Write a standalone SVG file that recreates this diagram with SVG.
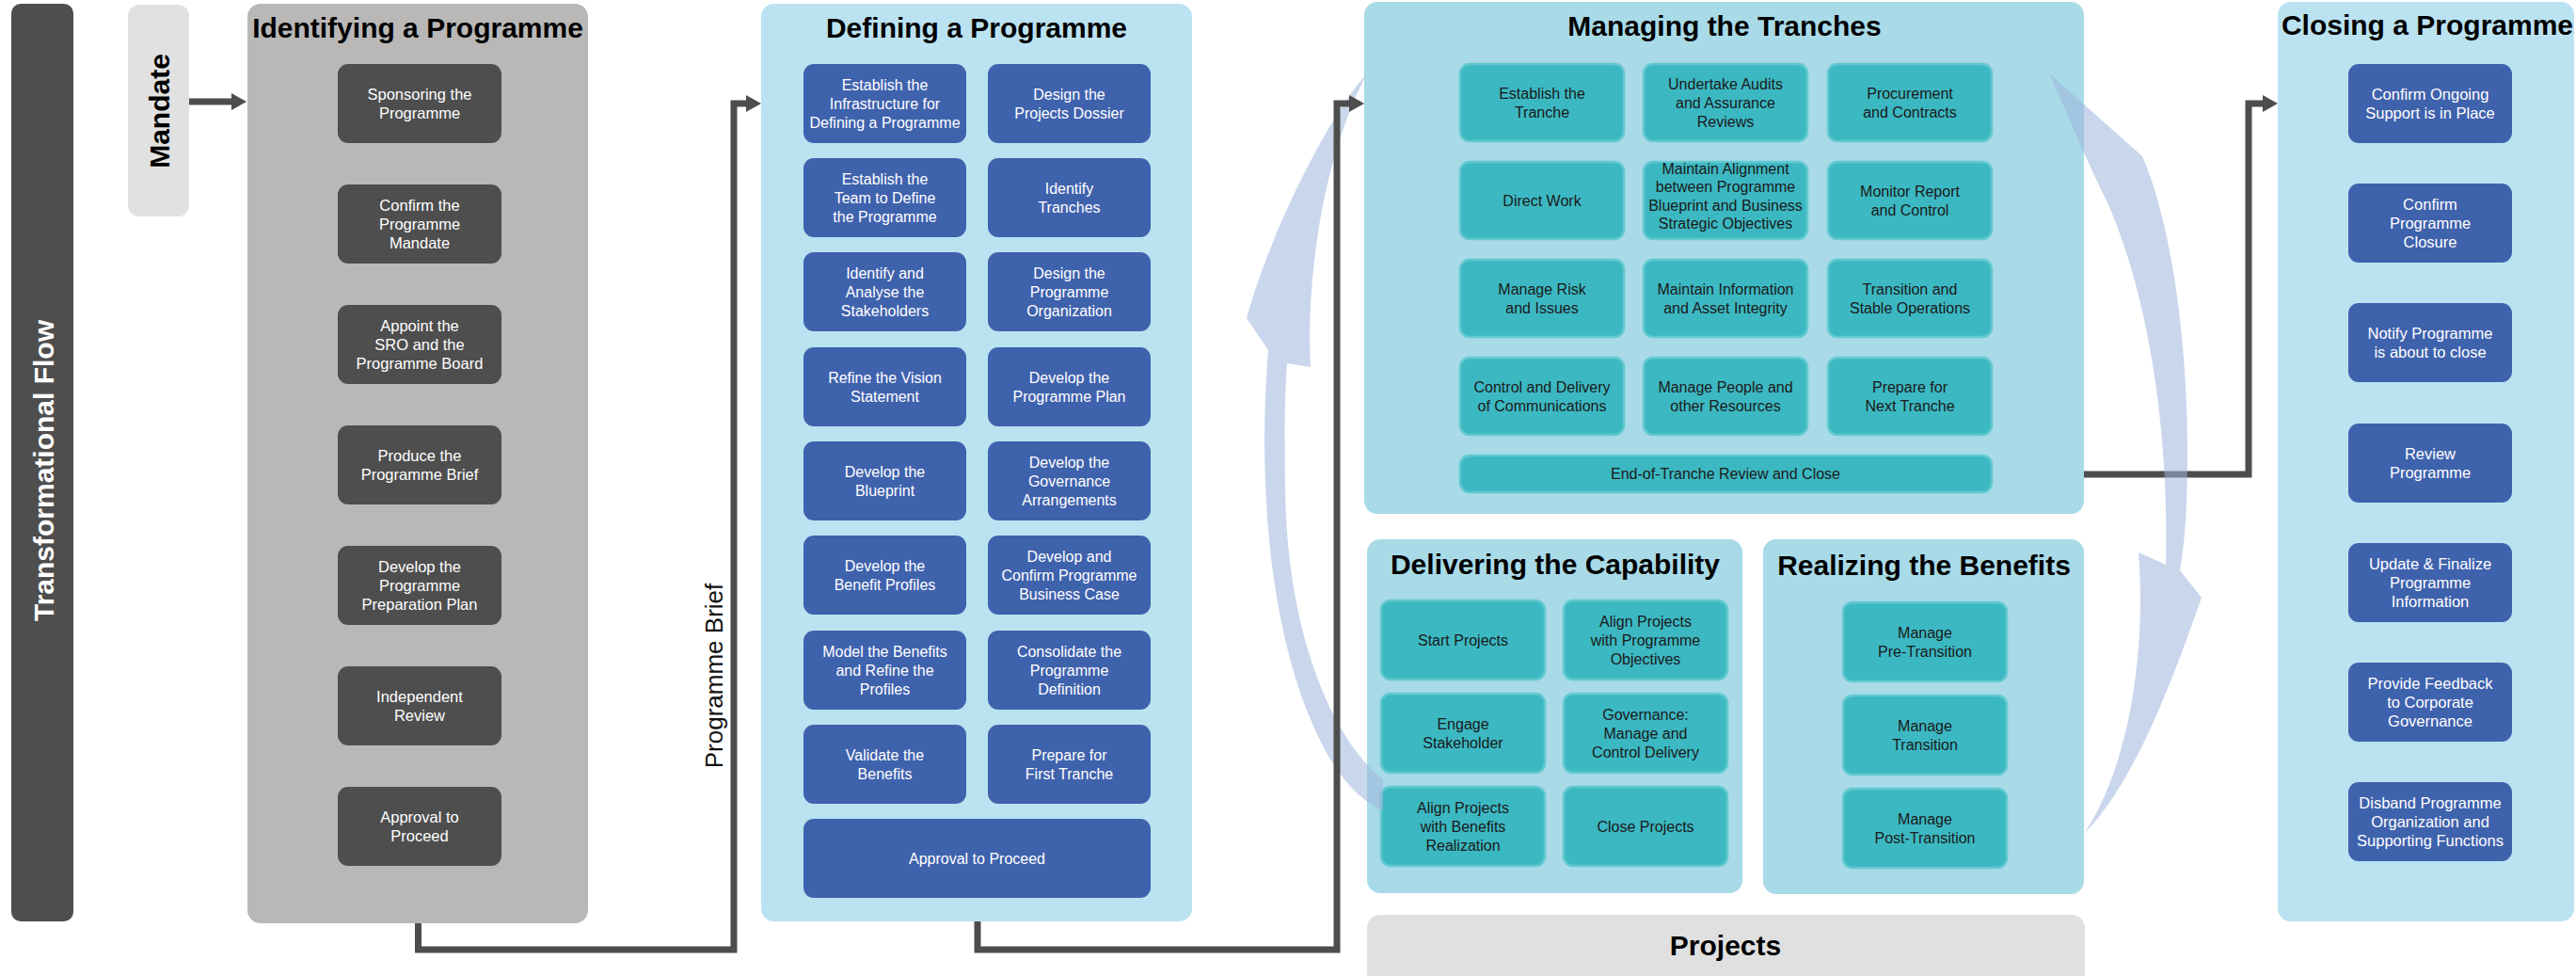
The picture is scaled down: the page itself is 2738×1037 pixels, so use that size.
<svg xmlns="http://www.w3.org/2000/svg" width="2738" height="1037" viewBox="0 0 2738 1037">
<style>
text{font-family:"Liberation Sans",Arial,sans-serif}
.pg{fill:#b9b8b7}
.pb{fill:#bbe2f1}
.pt{fill:#a8dae8}
.bd{fill:#4e4e4e}
.bb{fill:#3f62ad}
.bt{fill:#3cb8c2;stroke:#62c9d0;stroke-width:2.5}
.tw{fill:#fff;font-size:16.5px;text-anchor:middle}
.tb{fill:#fff;font-size:16px;text-anchor:middle}
.tk{fill:#1a1a1a;font-size:16px;text-anchor:middle}
.ti{fill:#000;font-weight:bold;font-size:30px;text-anchor:middle}
.cn{fill:none;stroke:#4d4d4d;stroke-width:7;stroke-linejoin:miter}
.sw{fill:#9db5dc;opacity:.55}
</style>
<defs>
<marker id="ah" markerUnits="userSpaceOnUse" markerWidth="16" markerHeight="18" refX="2" refY="9" orient="auto">
<path d="M0,0 L16,9 L0,18 z" fill="#4d4d4d"/>
</marker>
</defs>

<g id="transformational-flow">
<rect x="12" y="4" width="66" height="975" rx="10" fill="#4e4e4e"/>
<text transform="translate(57,500) rotate(-90)" fill="#fff" font-weight="bold" font-size="30" text-anchor="middle">Transformational Flow</text>
</g>

<g id="mandate">
<rect x="136" y="5" width="65" height="225" rx="12" fill="#e1e1e1"/>
<text transform="translate(180,118) rotate(-90)" fill="#000" font-weight="bold" font-size="30" text-anchor="middle">Mandate</text>
</g>

<g id="identifying">
<rect class="pg" x="263" y="4" width="362" height="977" rx="14"/>
<text class="ti" x="444" y="40" font-size="28">Identifying a Programme</text>
<rect class="bd" x="359" y="68" width="174" height="84" rx="11"/>
<text class="tw"><tspan x="446" y="105.5">Sponsoring the</tspan><tspan x="446" y="125.5">Programme</tspan></text>
<rect class="bd" x="359" y="196" width="174" height="84" rx="11"/>
<text class="tw"><tspan x="446" y="223.5">Confirm the</tspan><tspan x="446" y="243.5">Programme</tspan><tspan x="446" y="263.5">Mandate</tspan></text>
<rect class="bd" x="359" y="324" width="174" height="84" rx="11"/>
<text class="tw"><tspan x="446" y="351.5">Appoint the</tspan><tspan x="446" y="371.5">SRO and the</tspan><tspan x="446" y="391.5">Programme Board</tspan></text>
<rect class="bd" x="359" y="452" width="174" height="84" rx="11"/>
<text class="tw"><tspan x="446" y="489.5">Produce the</tspan><tspan x="446" y="509.5">Programme Brief</tspan></text>
<rect class="bd" x="359" y="580" width="174" height="84" rx="11"/>
<text class="tw"><tspan x="446" y="607.5">Develop the</tspan><tspan x="446" y="627.5">Programme</tspan><tspan x="446" y="647.5">Preparation Plan</tspan></text>
<rect class="bd" x="359" y="708" width="174" height="84" rx="11"/>
<text class="tw"><tspan x="446" y="745.5">Independent</tspan><tspan x="446" y="765.5">Review</tspan></text>
<rect class="bd" x="359" y="836" width="174" height="84" rx="11"/>
<text class="tw"><tspan x="446" y="873.5">Approval to</tspan><tspan x="446" y="893.5">Proceed</tspan></text>
</g>

<g id="programme-brief-label">
<text transform="translate(768,718) rotate(-90)" fill="#111" font-size="26" text-anchor="middle">Programme Brief</text>
</g>

<g id="defining">
<rect class="pb" x="809" y="4" width="458" height="975" rx="14"/>
<text class="ti" x="1038" y="40" font-size="29.5">Defining a Programme</text>
<rect class="bb" x="854" y="68" width="173" height="84" rx="11"/>
<text class="tb"><tspan x="940.5" y="95.5">Establish the</tspan><tspan x="940.5" y="115.5">Infrastructure for</tspan><tspan x="940.5" y="135.5">Defining a Programme</tspan></text>
<rect class="bb" x="1050" y="68" width="173" height="84" rx="11"/>
<text class="tb"><tspan x="1136.5" y="105.5">Design the</tspan><tspan x="1136.5" y="125.5">Projects Dossier</tspan></text>
<rect class="bb" x="854" y="168" width="173" height="84" rx="11"/>
<text class="tb"><tspan x="940.5" y="195.5">Establish the</tspan><tspan x="940.5" y="215.5">Team to Define</tspan><tspan x="940.5" y="235.5">the Programme</tspan></text>
<rect class="bb" x="1050" y="168" width="173" height="84" rx="11"/>
<text class="tb"><tspan x="1136.5" y="205.5">Identify</tspan><tspan x="1136.5" y="225.5">Tranches</tspan></text>
<rect class="bb" x="854" y="268" width="173" height="84" rx="11"/>
<text class="tb"><tspan x="940.5" y="295.5">Identify and</tspan><tspan x="940.5" y="315.5">Analyse the</tspan><tspan x="940.5" y="335.5">Stakeholders</tspan></text>
<rect class="bb" x="1050" y="268" width="173" height="84" rx="11"/>
<text class="tb"><tspan x="1136.5" y="295.5">Design the</tspan><tspan x="1136.5" y="315.5">Programme</tspan><tspan x="1136.5" y="335.5">Organization</tspan></text>
<rect class="bb" x="854" y="369" width="173" height="84" rx="11"/>
<text class="tb"><tspan x="940.5" y="406.5">Refine the Vision</tspan><tspan x="940.5" y="426.5">Statement</tspan></text>
<rect class="bb" x="1050" y="369" width="173" height="84" rx="11"/>
<text class="tb"><tspan x="1136.5" y="406.5">Develop the</tspan><tspan x="1136.5" y="426.5">Programme Plan</tspan></text>
<rect class="bb" x="854" y="469" width="173" height="84" rx="11"/>
<text class="tb"><tspan x="940.5" y="506.5">Develop the</tspan><tspan x="940.5" y="526.5">Blueprint</tspan></text>
<rect class="bb" x="1050" y="469" width="173" height="84" rx="11"/>
<text class="tb"><tspan x="1136.5" y="496.5">Develop the</tspan><tspan x="1136.5" y="516.5">Governance</tspan><tspan x="1136.5" y="536.5">Arrangements</tspan></text>
<rect class="bb" x="854" y="569" width="173" height="84" rx="11"/>
<text class="tb"><tspan x="940.5" y="606.5">Develop the</tspan><tspan x="940.5" y="626.5">Benefit Profiles</tspan></text>
<rect class="bb" x="1050" y="569" width="173" height="84" rx="11"/>
<text class="tb"><tspan x="1136.5" y="596.5">Develop and</tspan><tspan x="1136.5" y="616.5">Confirm Programme</tspan><tspan x="1136.5" y="636.5">Business Case</tspan></text>
<rect class="bb" x="854" y="670" width="173" height="84" rx="11"/>
<text class="tb"><tspan x="940.5" y="697.5">Model the Benefits</tspan><tspan x="940.5" y="717.5">and Refine the</tspan><tspan x="940.5" y="737.5">Profiles</tspan></text>
<rect class="bb" x="1050" y="670" width="173" height="84" rx="11"/>
<text class="tb"><tspan x="1136.5" y="697.5">Consolidate the</tspan><tspan x="1136.5" y="717.5">Programme</tspan><tspan x="1136.5" y="737.5">Definition</tspan></text>
<rect class="bb" x="854" y="770" width="173" height="84" rx="11"/>
<text class="tb"><tspan x="940.5" y="807.5">Validate the</tspan><tspan x="940.5" y="827.5">Benefits</tspan></text>
<rect class="bb" x="1050" y="770" width="173" height="84" rx="11"/>
<text class="tb"><tspan x="1136.5" y="807.5">Prepare for</tspan><tspan x="1136.5" y="827.5">First Tranche</tspan></text>
<rect class="bb" x="854" y="870" width="369" height="84" rx="11"/>
<text class="tb" x="1038.5" y="917.5">Approval to Proceed</text>
</g>

<g id="managing">
<rect class="pt" x="1450" y="2" width="765" height="544" rx="14"/>
<text class="ti" x="1833" y="38">Managing the Tranches</text>
<rect class="bt" x="1552" y="68" width="174" height="82" rx="10"/>
<text class="tk"><tspan x="1639" y="104.5">Establish the</tspan><tspan x="1639" y="124.5">Tranche</tspan></text>
<rect class="bt" x="1747" y="68" width="174" height="82" rx="10"/>
<text class="tk"><tspan x="1834" y="94.5">Undertake Audits</tspan><tspan x="1834" y="114.5">and Assurance</tspan><tspan x="1834" y="134.5">Reviews</tspan></text>
<rect class="bt" x="1943" y="68" width="174" height="82" rx="10"/>
<text class="tk"><tspan x="2030" y="104.5">Procurement</tspan><tspan x="2030" y="124.5">and Contracts</tspan></text>
<rect class="bt" x="1552" y="172" width="174" height="82" rx="10"/>
<text class="tk" x="1639" y="218.5">Direct Work</text>
<rect class="bt" x="1747" y="172" width="174" height="82" rx="10"/>
<text class="tk"><tspan x="1834" y="184.5">Maintain Alignment</tspan><tspan x="1834" y="204">between Programme</tspan><tspan x="1834" y="223.5">Blueprint and Business</tspan><tspan x="1834" y="243">Strategic Objectives</tspan></text>
<rect class="bt" x="1943" y="172" width="174" height="82" rx="10"/>
<text class="tk"><tspan x="2030" y="208.5">Monitor Report</tspan><tspan x="2030" y="228.5">and Control</tspan></text>
<rect class="bt" x="1552" y="276" width="174" height="82" rx="10"/>
<text class="tk"><tspan x="1639" y="312.5">Manage Risk</tspan><tspan x="1639" y="332.5">and Issues</tspan></text>
<rect class="bt" x="1747" y="276" width="174" height="82" rx="10"/>
<text class="tk"><tspan x="1834" y="312.5">Maintain Information</tspan><tspan x="1834" y="332.5">and Asset Integrity</tspan></text>
<rect class="bt" x="1943" y="276" width="174" height="82" rx="10"/>
<text class="tk"><tspan x="2030" y="312.5">Transition and</tspan><tspan x="2030" y="332.5">Stable Operations</tspan></text>
<rect class="bt" x="1552" y="380" width="174" height="82" rx="10"/>
<text class="tk"><tspan x="1639" y="416.5">Control and Delivery</tspan><tspan x="1639" y="436.5">of Communications</tspan></text>
<rect class="bt" x="1747" y="380" width="174" height="82" rx="10"/>
<text class="tk"><tspan x="1834" y="416.5">Manage People and</tspan><tspan x="1834" y="436.5">other Resources</tspan></text>
<rect class="bt" x="1943" y="380" width="174" height="82" rx="10"/>
<text class="tk"><tspan x="2030" y="416.5">Prepare for</tspan><tspan x="2030" y="436.5">Next Tranche</tspan></text>
<rect class="bt" x="1552" y="484" width="565" height="39" rx="10"/>
<text class="tk" x="1834" y="509">End-of-Tranche Review and Close</text>
</g>

<g id="delivering">
<rect class="pt" x="1453" y="573" width="399" height="376" rx="14"/>
<text class="ti" x="1653" y="610">Delivering the Capability</text>
<rect class="bt" x="1468" y="638" width="174" height="84" rx="10"/>
<text class="tk" x="1555" y="685.5">Start Projects</text>
<rect class="bt" x="1662" y="638" width="174" height="84" rx="10"/>
<text class="tk"><tspan x="1749" y="665.5">Align Projects</tspan><tspan x="1749" y="685.5">with Programme</tspan><tspan x="1749" y="705.5">Objectives</tspan></text>
<rect class="bt" x="1468" y="737" width="174" height="84" rx="10"/>
<text class="tk"><tspan x="1555" y="774.5">Engage</tspan><tspan x="1555" y="794.5">Stakeholder</tspan></text>
<rect class="bt" x="1662" y="737" width="174" height="84" rx="10"/>
<text class="tk"><tspan x="1749" y="764.5">Governance:</tspan><tspan x="1749" y="784.5">Manage and</tspan><tspan x="1749" y="804.5">Control Delivery</tspan></text>
<rect class="bt" x="1468" y="836" width="174" height="84" rx="10"/>
<text class="tk"><tspan x="1555" y="863.5">Align Projects</tspan><tspan x="1555" y="883.5">with Benefits</tspan><tspan x="1555" y="903.5">Realization</tspan></text>
<rect class="bt" x="1662" y="836" width="174" height="84" rx="10"/>
<text class="tk" x="1749" y="883.5">Close Projects</text>
</g>

<g id="realizing">
<rect class="pt" x="1874" y="573" width="341" height="377" rx="14"/>
<text class="ti" x="2045" y="611">Realizing the Benefits</text>
<rect class="bt" x="1959" y="640" width="174" height="84" rx="10"/>
<text class="tk"><tspan x="2046" y="677.5">Manage</tspan><tspan x="2046" y="697.5">Pre-Transition</tspan></text>
<rect class="bt" x="1959" y="739" width="174" height="84" rx="10"/>
<text class="tk"><tspan x="2046" y="776.5">Manage</tspan><tspan x="2046" y="796.5">Transition</tspan></text>
<rect class="bt" x="1959" y="838" width="174" height="84" rx="10"/>
<text class="tk"><tspan x="2046" y="875.5">Manage</tspan><tspan x="2046" y="895.5">Post-Transition</tspan></text>
</g>

<g id="projects">
<rect x="1453" y="972" width="763" height="80" rx="14" fill="#e0e0e0"/>
<text class="ti" x="1834" y="1015">Projects</text>
</g>

<g id="closing">
<rect class="pb" x="2421" y="2" width="315" height="977" rx="14"/>
<text class="ti" x="2580" y="37" font-size="28.5">Closing a Programme</text>
<rect class="bb" x="2496" y="68" width="174" height="84" rx="11"/>
<text class="tw"><tspan x="2583" y="105.5">Confirm Ongoing</tspan><tspan x="2583" y="125.5">Support is in Place</tspan></text>
<rect class="bb" x="2496" y="195" width="174" height="84" rx="11"/>
<text class="tw"><tspan x="2583" y="222.5">Confirm</tspan><tspan x="2583" y="242.5">Programme</tspan><tspan x="2583" y="262.5">Closure</tspan></text>
<rect class="bb" x="2496" y="322" width="174" height="84" rx="11"/>
<text class="tw"><tspan x="2583" y="359.5">Notify Programme</tspan><tspan x="2583" y="379.5">is about to close</tspan></text>
<rect class="bb" x="2496" y="450" width="174" height="84" rx="11"/>
<text class="tw"><tspan x="2583" y="487.5">Review</tspan><tspan x="2583" y="507.5">Programme</tspan></text>
<rect class="bb" x="2496" y="577" width="174" height="84" rx="11"/>
<text class="tw"><tspan x="2583" y="604.5">Update &amp; Finalize</tspan><tspan x="2583" y="624.5">Programme</tspan><tspan x="2583" y="644.5">Information</tspan></text>
<rect class="bb" x="2496" y="704" width="174" height="84" rx="11"/>
<text class="tw"><tspan x="2583" y="731.5">Provide Feedback</tspan><tspan x="2583" y="751.5">to Corporate</tspan><tspan x="2583" y="771.5">Governance</tspan></text>
<rect class="bb" x="2496" y="831" width="174" height="84" rx="11"/>
<text class="tw"><tspan x="2583" y="858.5">Disband Programme</tspan><tspan x="2583" y="878.5">Organization and</tspan><tspan x="2583" y="898.5">Supporting Functions</tspan></text>
</g>

<path id="swoosh-left" class="sw" d="M1452,80 C1425,105 1355,230 1325,338 L1348,372 C1336,520 1350,690 1410,800 C1430,835 1450,852 1470,862 L1470,828 C1420,790 1368,680 1366,520 C1365,450 1366,410 1368,386 L1393,390 C1388,300 1405,170 1452,80 Z"/>

<g id="connectors">
<path class="cn" d="M201,108 H248" stroke-width="5" marker-end="url(#ah)"/>
<path class="cn" d="M444.5,981 V1009 H780 V110 H795" marker-end="url(#ah)"/>
<path class="cn" d="M1039,979 V1009 H1421 V110 H1436" marker-end="url(#ah)"/>
<path class="cn" d="M2215,504 H2390 V110 H2407" marker-end="url(#ah)"/>
</g>

<path id="swoosh-right" class="sw" d="M2178,78 L2277,166 C2305,230 2325,350 2325,480 C2325,540 2322,580 2317,606 L2340,635 C2310,720 2270,830 2215,886 C2260,820 2282,700 2273,587 L2302,600 C2305,480 2290,330 2240,215 C2215,165 2195,115 2178,78 Z"/>
</svg>
